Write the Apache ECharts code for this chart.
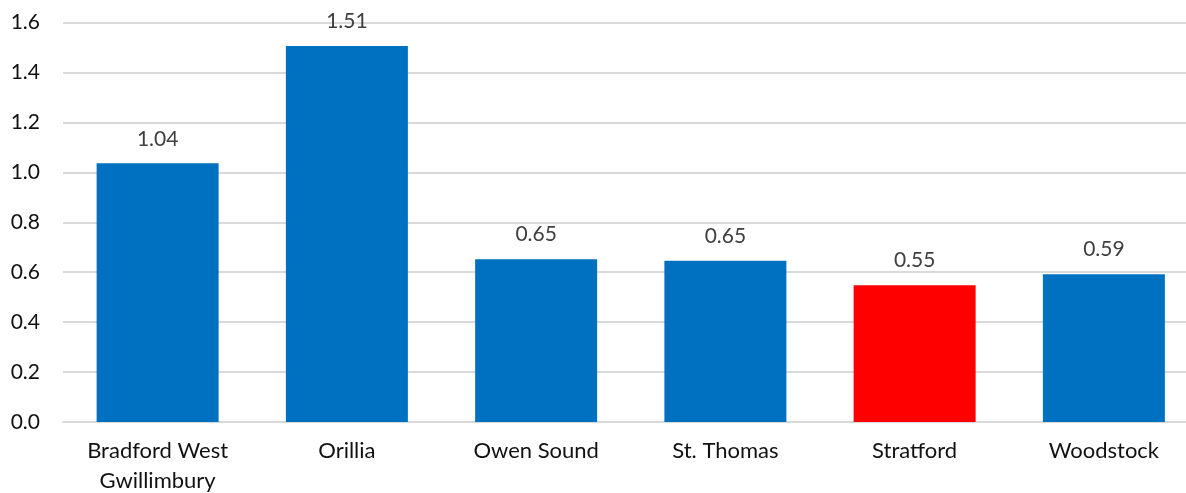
<!DOCTYPE html>
<html>
<head>
<meta charset="utf-8">
<script src="https://cdn.jsdelivr.net/npm/echarts@6/dist/echarts.min.js"></script>
<style>
  html, body { margin: 0; padding: 0; background: #fff; }
  #chart { width: 1186px; height: 493px; }
</style>
</head>
<body>
<div id="chart"></div>
<script>
// Municipalities compared
const categories = ['Bradford West\nGwillimbury', 'Orillia', 'Owen Sound', 'St. Thomas', 'Stratford', 'Woodstock'];
// Values per municipality
const values = [1.036, 1.506, 0.652, 0.646, 0.548, 0.592];
// Highlighted municipality
const highlight = 'Stratford';
// Y axis ticks
const yTicks = { min: 0, max: 1.6, interval: 0.2 };

const BLUE = '#0070C0';
const RED = '#FF0000';
const FONT = 'Lato, "Open Sans", sans-serif';

const chart = echarts.init(document.getElementById('chart'));
chart.setOption({
  animation: false,
  backgroundColor: '#ffffff',
  // plot area runs a little past the right edge of the canvas
  grid: {
    left: 63, top: 22.5, width: 1135.5, height: 399.5,
    containLabel: false, outerBoundsMode: 'none'
  },
  xAxis: {
    type: 'category',
    data: categories,
    axisLine: { show: true, lineStyle: { color: '#d9d9d9', width: 2 } },
    axisTick: { show: false },
    axisLabel: {
      color: '#111111', fontFamily: FONT, fontSize: 22, lineHeight: 30,
      margin: 14, interval: 0
    }
  },
  yAxis: {
    type: 'value',
    min: yTicks.min, max: yTicks.max, interval: yTicks.interval,
    axisLine: { show: false },
    axisTick: { show: false },
    splitLine: { show: true, lineStyle: { color: '#d9d9d9', width: 2 } },
    axisLabel: {
      color: '#111111', fontFamily: FONT, fontSize: 21, margin: 23,
      formatter: v => v.toFixed(1)
    }
  },
  series: [{
    type: 'bar',
    barWidth: 122,
    data: values.map((v, i) => ({
      value: v,
      itemStyle: { color: categories[i] === highlight ? RED : BLUE }
    })),
    label: {
      show: true, position: 'top', distance: 14,
      color: '#404040', fontFamily: FONT, fontSize: 21,
      formatter: p => p.value.toFixed(2)
    }
  }]
});
</script>
</body>
</html>
